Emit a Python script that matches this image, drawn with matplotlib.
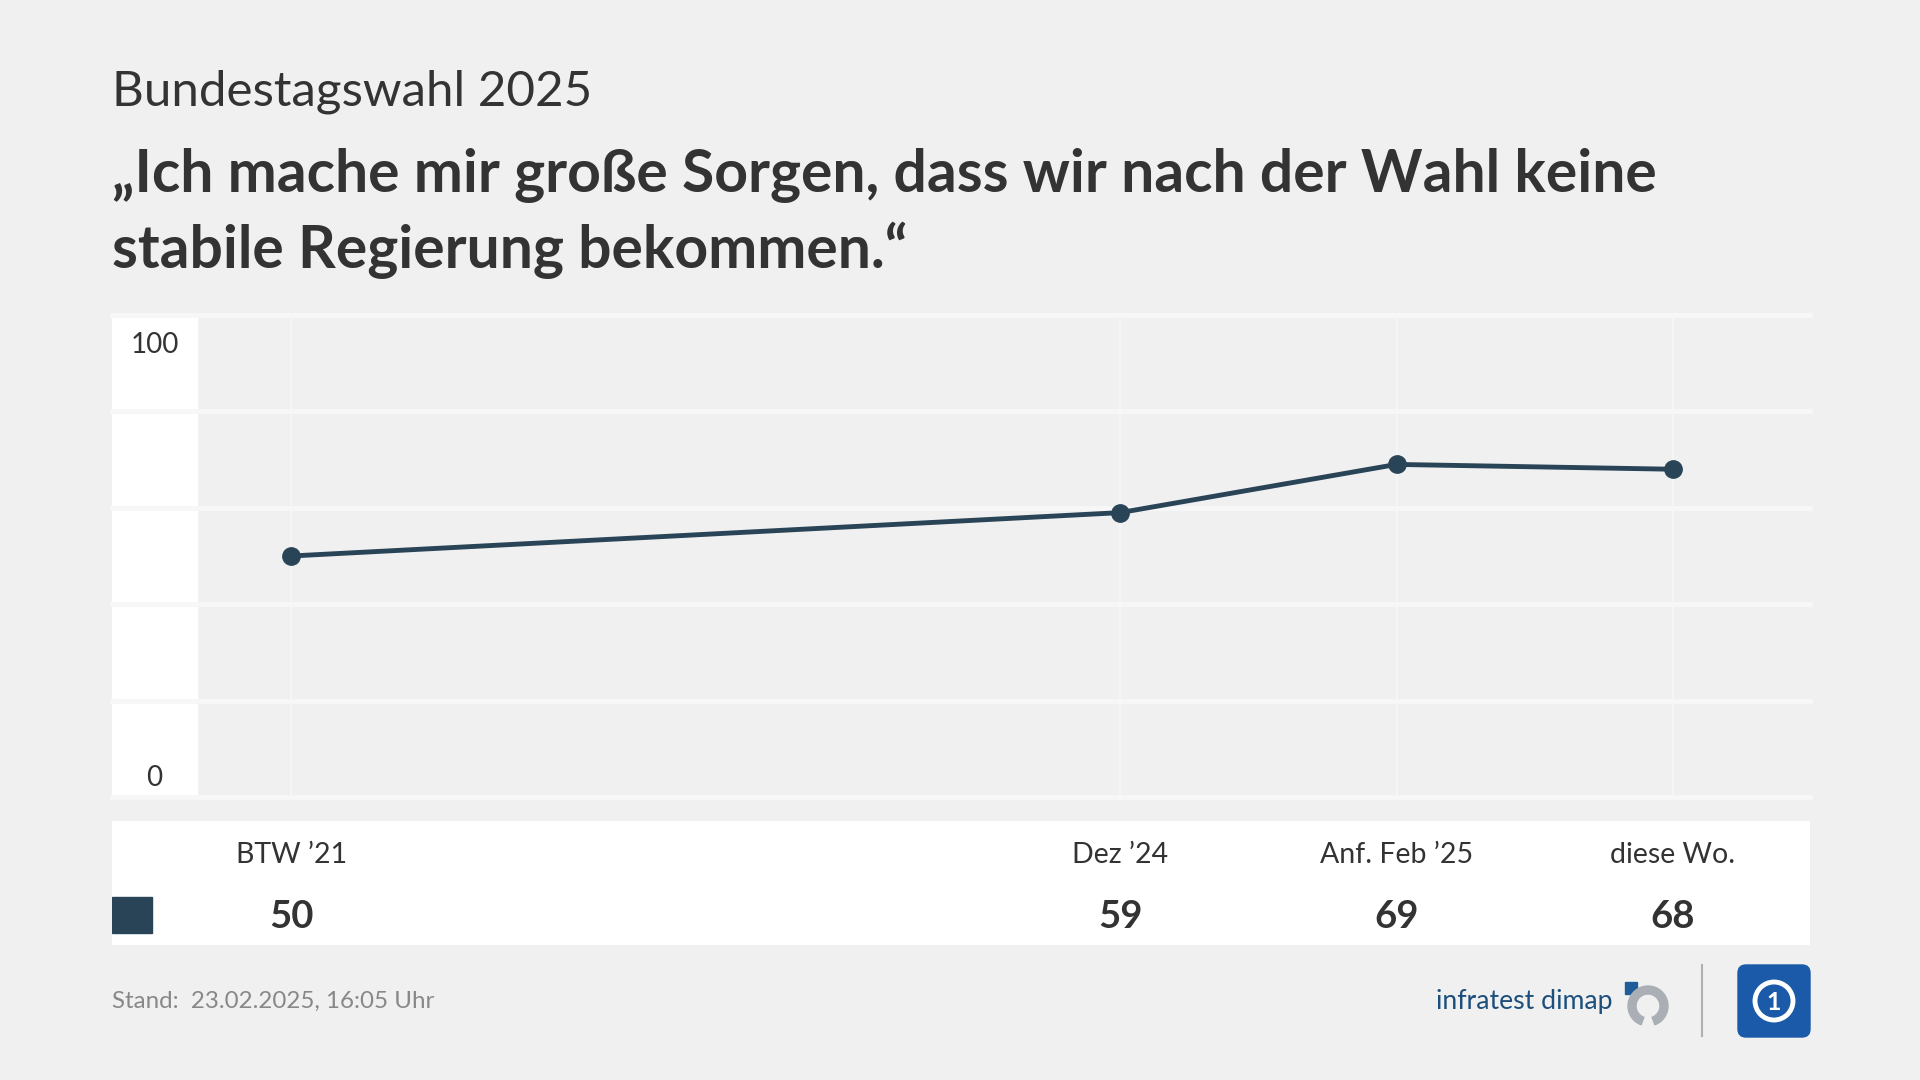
import matplotlib.pyplot as plt
from matplotlib.patches import Rectangle, FancyBboxPatch, Wedge, Circle
from matplotlib.transforms import blended_transform_factory

# data
labels = ["BTW ’21", "Dez ’24", "Anf. Feb ’25", "diese Wo."]
xpos = [0, 3, 4, 5]
values = [50, 59, 69, 68]
yticks = [0, 20, 40, 60, 80, 100]
ytick_labels = {100: "100", 0: "0"}

subtitle = "Bundestagswahl 2025"
title_lines = ["„Ich mache mir große Sorgen, dass wir nach der Wahl keine",
               "stabile Regierung bekommen.“"]
footer = "Stand:  23.02.2025, 16:05 Uhr"

bg = "#f0f0f0"
line_c = "#2a4457"
text_c = "#333333"

plt.rcParams["font.family"] = ["Lato", "DejaVu Sans"]

W, H = 1920, 1080
fig = plt.figure(figsize=(19.2, 10.8), dpi=100, facecolor=bg)


def box(x0, y0, x1, y1):
    # pixel box (top-left origin) -> figure fraction rect
    return [x0 / W, 1 - y1 / H, (x1 - x0) / W, (y1 - y0) / H]


# overlay for texts and logos, pixel coords
deco = fig.add_axes([0, 0, 1, 1], zorder=0)
deco.set_xlim(0, W)
deco.set_ylim(H, 0)
deco.axis("off")

deco.text(112, 105, subtitle, fontsize=35.5, color=text_c, va="baseline")
for yb, line in zip([192, 268], title_lines):
    deco.text(112, yb, line, fontsize=42.3, fontweight="bold", color=text_c, va="baseline")
deco.text(112, 1008, footer, fontsize=17.4, color="#888888", va="baseline")

# logos
deco.text(1436, 1009, "infratest dimap", fontsize=19.2, color="#1d4f7c", va="baseline")
deco.add_patch(Rectangle((1625, 982), 12, 12, color="#1f5c99"))
deco.add_patch(Wedge((1648, 1006), 20, -250, 70, width=8, color="#a9afb5"))
deco.plot([1702, 1702], [965, 1036], color="#b0b0b0", lw=1.5)
deco.add_patch(FancyBboxPatch((1738, 965), 72, 72, boxstyle="round,pad=0,rounding_size=8",
                              color="#1a5aa8"))
deco.add_patch(Circle((1774, 1001), 19, fill=False, ec="white", lw=3.5))
deco.text(1774, 1002, "1", color="white", fontsize=18, fontweight="bold",
          ha="center", va="center")

# main chart
ax = fig.add_axes(box(112, 315, 1810, 797), zorder=2)
ax.set_facecolor(bg)
ax.set_xlim(-0.648, 5.496)
ax.set_ylim(0, 100)
for s in ax.spines.values():
    s.set_visible(False)
ax.set_xticks(xpos)
ax.set_yticks(yticks)
ax.tick_params(length=0, labelbottom=False, labelleft=False)
ax.grid(axis="x", color="#f7f7f7", lw=1.2)
ax.grid(axis="y", color="#f7f7f7", lw=3.5)
for gl in ax.get_ygridlines():
    gl.set_clip_on(False)
ax.set_axisbelow(True)

# white label column, split by gridlines
col = blended_transform_factory(ax.transAxes, ax.transData)
for lo, hi in zip(yticks[:-1], yticks[1:]):
    ax.add_patch(Rectangle((0, lo + 0.5), 0.05, hi - lo - 1.0, transform=col,
                           color="white", zorder=0.5))
ax.annotate(ytick_labels[100], (0.025, 100), xycoords=col, xytext=(0, -12),
            textcoords="offset points", ha="center", va="top", fontsize=20, color=text_c)
ax.annotate(ytick_labels[0], (0.025, 0), xycoords=col, xytext=(0, 8),
            textcoords="offset points", ha="center", va="baseline", fontsize=20, color=text_c)

ax.plot(xpos, values, color=line_c, lw=3.5, marker="o", markersize=12.5, zorder=3)

# value table below
tab = fig.add_axes(box(112, 821, 1810, 945), zorder=2, sharex=ax)
tab.set_ylim(0, 1)
tab.axis("off")
tab.add_patch(Rectangle((0, 0), 1, 1, transform=tab.transAxes, color="white", zorder=0))
for x, lab, v in zip(xpos, labels, values):
    tab.text(x, 0.661, lab, ha="center", va="baseline", fontsize=20.5, color=text_c)
    tab.text(x, 0.137, str(v), ha="center", va="baseline", fontsize=27.5,
             fontweight="bold", color=text_c)
tab.add_patch(Rectangle((0, 0.097), 0.0236, 0.29, transform=tab.transAxes,
                        color=line_c, zorder=1))

fig.savefig("out.png", dpi=100, facecolor=bg)
